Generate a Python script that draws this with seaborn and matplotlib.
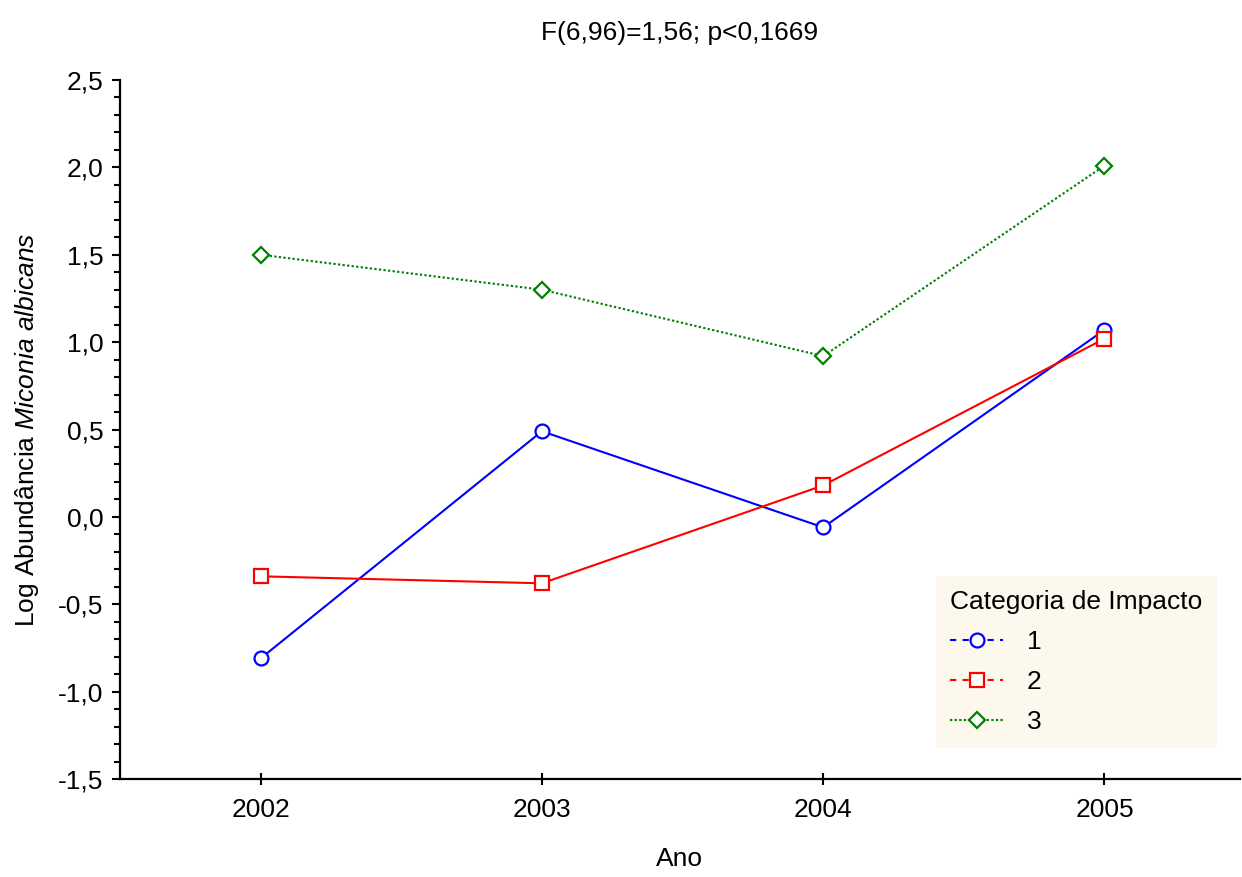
import pandas as pd
import matplotlib
matplotlib.use("Agg")
import matplotlib.pyplot as plt
from matplotlib.lines import Line2D
from matplotlib.ticker import MultipleLocator, FuncFormatter
import seaborn as sns

# values
anos = [2002, 2003, 2004, 2005]
cat1 = [-0.81, 0.49, -0.06, 1.07]
cat2 = [-0.34, -0.38, 0.18, 1.02]
cat3 = [1.50, 1.30, 0.92, 2.01]
categorias = ["1", "2", "3"]
cores = ["#0000FF", "#FF0000", "#008000"]
marcadores = ["o", "s", "D"]

df = pd.DataFrame({
    "Ano": anos * 3,
    "valor": cat1 + cat2 + cat3,
    "categoria": [c for c in categorias for _ in anos],
})

sns.set_style("ticks")
plt.rcParams["font.family"] = ["Liberation Sans", "DejaVu Sans"]
plt.rcParams["mathtext.fontset"] = "custom"
plt.rcParams["mathtext.rm"] = "Liberation Sans"
plt.rcParams["mathtext.it"] = "Liberation Sans:italic"
plt.rcParams["text.color"] = "black"
plt.rcParams["axes.labelcolor"] = "black"
plt.rcParams["xtick.color"] = "black"
plt.rcParams["ytick.color"] = "black"

FS = 19

fig = plt.figure(figsize=(12.42, 8.77), dpi=100)
ax = fig.add_axes([0.0966, 0.1117, 0.9014, 0.7971])

estilos = ["-", "-", (0, (1.1, 1.1))]
for cat, cor, mk, ls in zip(categorias, cores, marcadores, estilos):
    sub = df[df["categoria"] == cat]
    sns.lineplot(data=sub, x="Ano", y="valor", ax=ax, color=cor, marker=mk,
                 markersize=10 if mk != "D" else 8.5, mfc="white", mec=cor, mew=1.6,
                 linestyle=ls, linewidth=1.5, legend=False)

ax.set_xlim(2001.5, 2005.48)
ax.set_ylim(-1.5, 2.5)
ax.set_xticks(anos)
ax.yaxis.set_major_locator(MultipleLocator(0.5))
ax.yaxis.set_minor_locator(MultipleLocator(0.1))
ax.yaxis.set_major_formatter(FuncFormatter(lambda v, p: f"{v:.1f}".replace(".", ",")))
ax.tick_params(axis="both", labelsize=FS, width=1.5, color="black")
ax.tick_params(axis="y", which="major", length=6, direction="out", pad=6)
ax.tick_params(axis="y", which="minor", length=4, width=1.5, direction="out")
ax.tick_params(axis="x", length=8, direction="inout", pad=10)
for s in ["top", "right"]:
    ax.spines[s].set_visible(False)
for s in ["left", "bottom"]:
    ax.spines[s].set_linewidth(1.6)
    ax.spines[s].set_color("black")

ax.set_xlabel("Ano", fontsize=FS, labelpad=18)
ax.set_ylabel("Log Abundância $\\it{Miconia\\ albicans}$", fontsize=FS, labelpad=12)
ax.set_title("F(6,96)=1,56; p<0,1669", fontsize=FS, pad=29)

handles = [Line2D([0], [0], color=c, marker=m, mfc="white", mec=c, mew=1.6,
                  markersize=10 if m != "D" else 8.5,
                  linestyle=(0, (3, 3)) if m != "D" else (0, (1.1, 1.1)), linewidth=1.5)
           for c, m in zip(cores, marcadores)]
leg = ax.legend(handles, categorias, title="Categoria de Impacto", fontsize=FS,
                title_fontsize=FS, loc="lower right", bbox_to_anchor=(0.98, 0.044),
                borderaxespad=0, frameon=True, facecolor="#FDF8EE", edgecolor="none",
                framealpha=1, fancybox=False, handlelength=2.0, labelspacing=0.6,
                borderpad=0.55, handletextpad=0.9)
leg._legend_box.align = "left"

fig.savefig("out.png", dpi=100)
